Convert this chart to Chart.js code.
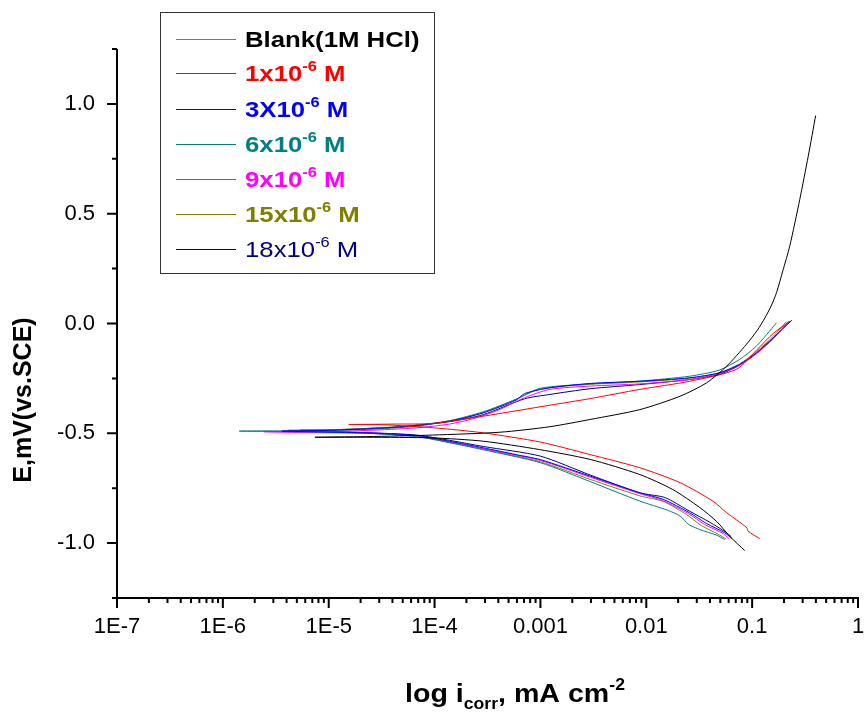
<!DOCTYPE html>
<html><head><meta charset="utf-8">
<script src="https://cdn.jsdelivr.net/npm/chart.js@4.4.1/dist/chart.umd.min.js"></script>
<style>html,body{margin:0;padding:0;background:#fff;}#wrap{width:864px;height:714px;}</style>
</head><body><div id="wrap"><canvas id="c" width="864" height="714"></canvas></div>
<script>
// ---- data (log10 of current density, mA cm^-2 ; potential E) ----
const seriesNames = ['Blank(1M HCl)','1x10-6 M','3X10-6 M','6x10-6 M','9x10-6 M','15x10-6 M','18x10-6 M'];
const seriesColors = ['#000000','#FF0000','#0000FF','#008080','#FF00FF','#808000','#000080'];

const blankLogI = [-1.07,-1.21,-1.334,-1.495,-1.75,-2.06,-2.53,-3.01,-3.54,-4.02,-4.64,-5.13,-4.64,-4.02,-3.38,-2.91,-2.53,-2.06,-1.68,-1.43,-1.24,-1.054,-0.95,-0.88,-0.82,-0.77,-0.71,-0.645,-0.55,-0.47,-0.40];
const blankE    = [-1.034,-0.970,-0.902,-0.838,-0.756,-0.688,-0.619,-0.574,-0.536,-0.521,-0.518,-0.518,-0.515,-0.508,-0.495,-0.470,-0.437,-0.392,-0.331,-0.270,-0.194,-0.095,-0.03,0.025,0.08,0.14,0.24,0.352,0.565,0.762,0.947];

const c1LogI = [-0.928,-1.04,-1.05,-1.24,-1.37,-1.68,-2.06,-2.53,-3.0,-3.54,-4.01,-4.49,-4.81,-4.4,-4.01,-3.54,-2.91,-2.53,-2.06,-1.59,-1.15,-0.96,-0.80,-0.64];
const c1E    = [-0.98,-0.945,-0.93,-0.862,-0.809,-0.725,-0.657,-0.597,-0.54,-0.498,-0.475,-0.461,-0.46,-0.458,-0.455,-0.422,-0.372,-0.342,-0.30,-0.263,-0.209,-0.122,-0.045,0.012];

const c3LogI = [-1.19,-1.26,-1.43,-1.59,-1.84,-2.06,-2.53,-3.0,-3.23,-3.54,-3.86,-4.17,-4.64,-5.44,-4.96,-4.33,-3.86,-3.54,-3.23,-3.15,-2.91,-2.53,-2.06,-1.59,-1.31,-1.12,-0.96,-0.80,-0.624];
const c3E    = [-0.98,-0.953,-0.911,-0.862,-0.801,-0.771,-0.695,-0.620,-0.597,-0.566,-0.536,-0.51,-0.498,-0.49,-0.486,-0.471,-0.445,-0.407,-0.349,-0.319,-0.293,-0.273,-0.263,-0.247,-0.225,-0.187,-0.134,-0.065,0.015];

const c6LogI = [-1.26,-1.33,-1.495,-1.60,-1.68,-1.80,-2.06,-2.53,-3.0,-3.54,-3.86,-4.17,-4.64,-5.2,-5.845,-5.2,-4.64,-4.17,-3.86,-3.54,-3.23,-3.0,-2.53,-2.06,-1.59,-1.31,-1.12,-0.96,-0.77];
const c6E    = [-0.984,-0.965,-0.938,-0.915,-0.877,-0.85,-0.809,-0.72,-0.634,-0.575,-0.543,-0.515,-0.50,-0.493,-0.49,-0.488,-0.482,-0.468,-0.443,-0.402,-0.345,-0.295,-0.275,-0.262,-0.24,-0.212,-0.164,-0.103,0.003];

const c9LogI = [-1.22,-1.27,-1.45,-1.60,-1.85,-2.06,-2.53,-3.0,-3.54,-3.86,-4.17,-4.64,-5.2,-5.61,-5.2,-4.64,-4.17,-3.86,-3.64,-3.40,-3.15,-2.91,-2.53,-2.06,-1.59,-1.31,-1.12,-0.96,-0.80,-0.66];
const c9E    = [-0.98,-0.957,-0.915,-0.866,-0.805,-0.775,-0.70,-0.624,-0.57,-0.54,-0.514,-0.50,-0.497,-0.493,-0.492,-0.487,-0.475,-0.458,-0.434,-0.395,-0.338,-0.30,-0.285,-0.275,-0.255,-0.228,-0.19,-0.138,-0.07,0.009];

const c15LogI = [-1.25,-1.32,-1.48,-1.62,-1.84,-2.06,-2.53,-3.0,-3.54,-3.86,-4.17,-4.64,-5.38,-4.96,-4.33,-3.86,-3.54,-3.23,-3.0,-2.53,-2.06,-1.59,-1.31,-1.12,-0.96,-0.80,-0.677];
const c15E    = [-0.98,-0.96,-0.92,-0.87,-0.81,-0.785,-0.71,-0.63,-0.572,-0.54,-0.513,-0.499,-0.486,-0.484,-0.47,-0.443,-0.405,-0.345,-0.298,-0.277,-0.266,-0.249,-0.224,-0.184,-0.128,-0.058,0.008];

const c18LogI = [-1.197,-1.25,-1.40,-1.59,-1.75,-1.84,-2.06,-2.53,-3.0,-3.54,-3.86,-4.17,-4.64,-5.27,-4.96,-4.33,-3.86,-3.54,-3.15,-2.91,-2.53,-2.06,-1.59,-1.31,-1.12,-0.96,-0.80,-0.65];
const c18E    = [-0.971,-0.95,-0.905,-0.855,-0.81,-0.79,-0.771,-0.69,-0.604,-0.56,-0.532,-0.508,-0.497,-0.486,-0.484,-0.47,-0.447,-0.415,-0.343,-0.323,-0.297,-0.278,-0.255,-0.232,-0.19,-0.135,-0.065,0.01];

const xTickValues = [1e-7,1e-6,1e-5,1e-4,1e-3,1e-2,1e-1,1];
const xTickLabels = ['1E-7','1E-6','1E-5','1E-4','0.001','0.01','0.1','1'];
const xMinorMultipliers = [2,3,4,5,6,7,8,9];
const yTickValues = [-1.0,-0.5,0.0,0.5,1.0];
const yMinorValues = [-1.25,-0.75,-0.25,0.25,0.75,1.25];

const seriesLogI = [blankLogI,c1LogI,c3LogI,c6LogI,c9LogI,c15LogI,c18LogI];
const seriesE = [blankE,c1E,c3E,c6E,c9E,c15E,c18E];

// legend text parts: [text, kind] (0 normal, 1 superscript)
const legendParts = [
  [['Blank(1M HCl)',0]],
  [['1x10',0],['-6',1],[' M',0]],
  [['3X10',0],['-6',1],[' M',0]],
  [['6x10',0],['-6',1],[' M',0]],
  [['9x10',0],['-6',1],[' M',0]],
  [['15x10',0],['-6',1],[' M',0]],
  [['18x10',0],['-6',1],[' M',0]]
];
const legendBold = [true,true,true,true,true,true,false];

const FONT = '"Liberation Sans", Arial, Helvetica, sans-serif';

const datasets = seriesLogI.map((arr,i)=>({
  label: seriesNames[i],
  data: arr.map((l,j)=>({x: Math.pow(10,l), y: seriesE[i][j]})),
  borderColor: seriesColors[i],
  backgroundColor: seriesColors[i],
  borderWidth: 1,
  pointRadius: 0,
  showLine: true,
  fill: false,
  tension: 0.25
}));

const axesPlugin = {
  id: 'axesDraw',
  afterDatasetsDraw(chart){
    const {ctx, chartArea: a, scales: {x, y}} = chart;
    ctx.save();
    ctx.strokeStyle = '#000';
    ctx.lineWidth = 2;
    ctx.beginPath();
    ctx.moveTo(a.left, a.top); ctx.lineTo(a.left, a.bottom);
    ctx.moveTo(a.left - 1, a.bottom); ctx.lineTo(a.right + 1, a.bottom);
    yTickValues.forEach(v => { const p = y.getPixelForValue(v); ctx.moveTo(a.left, p); ctx.lineTo(a.left - 10, p); });
    yMinorValues.forEach(v => { const p = y.getPixelForValue(v); ctx.moveTo(a.left, p); ctx.lineTo(a.left - 5, p); });
    xTickValues.forEach(v => { const p = x.getPixelForValue(v); ctx.moveTo(p, a.bottom); ctx.lineTo(p, a.bottom + 10); });
    xTickValues.slice(0, -1).forEach(d => {
      xMinorMultipliers.forEach(m => { const p = x.getPixelForValue(d * m); ctx.moveTo(p, a.bottom); ctx.lineTo(p, a.bottom + 5); });
    });
    ctx.stroke();
    ctx.restore();
  }
};

function drawRich(ctx, x0, base, parts, size, supSize, bold, stretch, color){
  ctx.save();
  ctx.translate(x0, base);
  ctx.scale(stretch, 1);
  ctx.fillStyle = color;
  ctx.textBaseline = 'alphabetic';
  ctx.textAlign = 'left';
  let cx = 0;
  parts.forEach(([t, kind]) => {
    const w = bold ? 'bold ' : '';
    if (kind === 1) { ctx.font = w + supSize + 'px ' + FONT; ctx.fillText(t, cx, -size * 0.45); }
    else if (kind === 2) { ctx.font = w + supSize + 'px ' + FONT; ctx.fillText(t, cx, size * 0.28); }
    else { ctx.font = w + size + 'px ' + FONT; ctx.fillText(t, cx, 0); }
    cx += ctx.measureText(t).width;
  });
  ctx.restore();
}

const legendPlugin = {
  id: 'customLegend',
  afterDraw(chart){
    const ctx = chart.ctx;
    ctx.save();
    ctx.strokeStyle = '#333';
    ctx.lineWidth = 1;
    ctx.strokeRect(160.5, 12.5, 274, 261);
    const rows = [39, 73, 109, 144, 179, 214, 249];
    rows.forEach((ry, i) => {
      ctx.strokeStyle = i === 0 ? '#777' : seriesColors[i];
      ctx.lineWidth = 1;
      ctx.beginPath(); ctx.moveTo(176, ry + 0.5); ctx.lineTo(236, ry + 0.5); ctx.stroke();
      drawRich(ctx, 245, ry + 8, legendParts[i], 22, 14, legendBold[i], 1.17, seriesColors[i]);
    });
    ctx.restore();
  }
};

const titlePlugin = {
  id: 'axisTitles',
  afterDraw(chart){
    const ctx = chart.ctx;
    drawRich(ctx, 405, 702, [['log i',0],['corr',2],[', mA cm',0],['-2',1]], 26, 16, true, 1.1, '#000');
    ctx.save();
    ctx.translate(31, 400);
    ctx.rotate(-Math.PI / 2);
    ctx.font = 'bold 25px ' + FONT;
    ctx.fillStyle = '#000';
    ctx.textAlign = 'center';
    ctx.textBaseline = 'alphabetic';
    ctx.fillText('E,mV(vs.SCE)', 0, 0);
    ctx.restore();
  }
};

new Chart(document.getElementById('c').getContext('2d'), {
  type: 'scatter',
  data: { datasets },
  options: {
    responsive: false,
    animation: false,
    devicePixelRatio: 1,
    layout: { padding: { top: 49, right: 6, left: 0, bottom: 0 } },
    plugins: { legend: { display: false }, tooltip: { enabled: false } },
    scales: {
      x: {
        type: 'logarithmic', min: 1e-7, max: 1,
        grid: { display: false, drawTicks: false },
        border: { display: false },
        afterBuildTicks: s => { s.ticks = xTickValues.map(v => ({ value: v })); },
        afterFit: s => { s.height = 116; s.paddingLeft = 0; s.paddingRight = 0; },
        ticks: { autoSkip: false, maxRotation: 0, minRotation: 0, padding: 16, color: '#000',
          font: { family: FONT, size: 22 }, callback: (v, i) => xTickLabels[i] }
      },
      y: {
        type: 'linear', min: -1.25, max: 1.25,
        grid: { display: false, drawTicks: false },
        border: { display: false },
        afterBuildTicks: s => { s.ticks = yTickValues.map(v => ({ value: v })); },
        afterFit: s => { s.width = 117; s.paddingTop = 0; s.paddingBottom = 0; },
        ticks: { padding: 22, color: '#000', font: { family: FONT, size: 22 },
          callback: v => Number(v).toFixed(1) }
      }
    }
  },
  plugins: [axesPlugin, legendPlugin, titlePlugin]
});
</script>
</body></html>
